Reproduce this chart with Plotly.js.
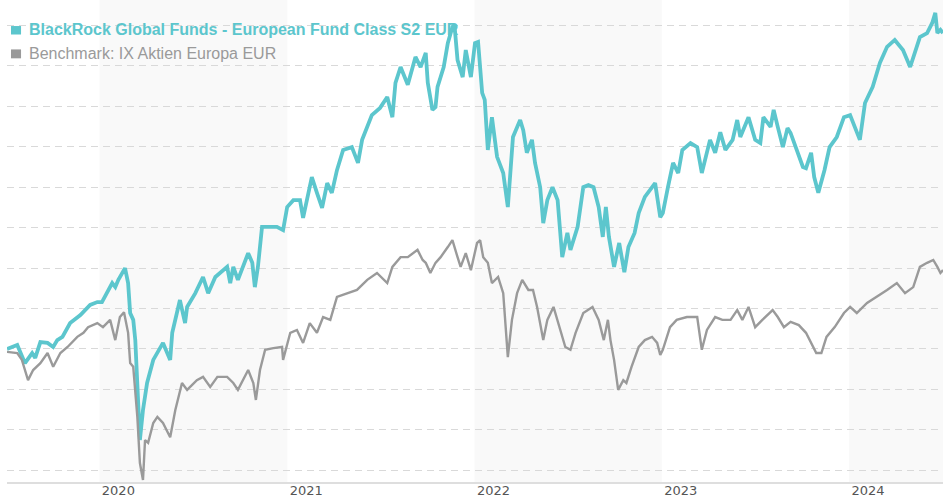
<!DOCTYPE html>
<html>
<head>
<meta charset="utf-8">
<script src="https://cdn.plot.ly/plotly-3.0.1.min.js"></script>
<style>html,body{margin:0;padding:0;background:#fff;}#chart{width:943px;height:500px;}</style>
</head>
<body>
<div id="chart"></div>
<script>
const fundName = 'BlackRock Global Funds - European Fund Class S2 EUR';
const benchName = 'Benchmark: IX Aktien Europa EUR';

const fundDates = ['2019-07-05','2019-07-25','2019-08-09','2019-08-23','2019-08-29','2019-09-08','2019-09-22','2019-10-03','2019-10-11','2019-10-21','2019-11-05','2019-11-25','2019-12-14','2019-12-28','2020-01-06','2020-01-16','2020-01-26','2020-02-01','2020-02-07','2020-02-20','2020-02-26','2020-03-01','2020-03-07','2020-03-11','2020-03-17','2020-03-20','2020-03-26','2020-04-03','2020-04-15','2020-04-23','2020-05-04','2020-05-18','2020-05-22','2020-06-06','2020-06-16','2020-06-20','2020-07-06','2020-07-21','2020-07-31','2020-08-14','2020-09-06','2020-09-12','2020-09-18','2020-09-27','2020-10-17','2020-10-25','2020-10-30','2020-11-05','2020-11-13','2020-11-28','2020-12-12','2020-12-24','2021-01-01','2021-01-13','2021-01-26','2021-02-01','2021-02-09','2021-02-18','2021-02-28','2021-03-10','2021-03-20','2021-03-29','2021-04-08','2021-04-20','2021-05-07','2021-05-19','2021-05-27','2021-06-15','2021-07-01','2021-07-15','2021-07-25','2021-07-31','2021-08-10','2021-08-24','2021-09-08','2021-09-18','2021-09-28','2021-10-02','2021-10-11','2021-10-17','2021-10-21','2021-11-02','2021-11-10','2021-11-19','2021-11-23','2021-11-29','2021-12-09','2021-12-15','2021-12-25','2022-01-02','2022-01-08','2022-01-16','2022-01-21','2022-01-27','2022-02-04','2022-02-14','2022-02-26','2022-03-07','2022-03-17','2022-03-31','2022-04-06','2022-04-13','2022-04-23','2022-04-29','2022-05-09','2022-05-15','2022-05-23','2022-06-02','2022-06-12','2022-06-21','2022-07-01','2022-07-07','2022-07-21','2022-08-01','2022-08-11','2022-08-21','2022-08-31','2022-09-08','2022-09-14','2022-09-20','2022-09-30','2022-10-10','2022-10-20','2022-10-28','2022-11-09','2022-11-17','2022-11-29','2022-12-09','2022-12-19','2022-12-29','2023-01-03','2023-01-13','2023-01-23','2023-02-02','2023-02-10','2023-02-26','2023-03-11','2023-03-20','2023-03-30','2023-04-05','2023-04-15','2023-04-25','2023-05-05','2023-05-19','2023-05-28','2023-06-03','2023-06-19','2023-07-02','2023-07-12','2023-07-18','2023-08-01','2023-08-07','2023-08-15','2023-08-25','2023-09-03','2023-09-09','2023-09-19','2023-10-03','2023-10-09','2023-10-19','2023-10-25','2023-11-02','2023-11-14','2023-11-24','2023-12-08','2023-12-22','2024-01-03','2024-01-12','2024-01-22','2024-02-01','2024-02-16','2024-03-01','2024-03-15','2024-03-30','2024-04-15','2024-04-29','2024-05-09','2024-05-18','2024-06-01','2024-06-11','2024-06-17','2024-06-21','2024-06-27','2024-07-02'];
const fundValues = [100.0,101.0,96.5,99.0,97.8,101.7,101.5,100.5,102.2,103.0,106.4,108.4,110.9,111.6,111.6,113.8,116.3,115.3,117.1,120.0,116.3,108.9,107.2,102.2,87.3,77.5,84.9,91.6,97.3,99.0,101.5,97.3,104.0,112.1,106.4,110.4,113.8,117.8,113.8,117.8,120.3,116.3,120.3,117.1,123.7,121.3,115.3,120.3,130.2,130.2,130.2,129.4,135.1,136.8,136.8,132.4,137.6,142.5,138.6,134.9,141.0,138.6,144.2,149.2,149.9,146.0,151.7,157.8,159.6,162.3,157.3,165.8,169.7,165.3,172.2,169.7,173.2,165.8,159.1,159.8,164.8,169.7,175.6,179.6,180.1,171.4,167.2,173.9,167.2,175.6,175.9,163.3,161.6,149.2,157.3,147.5,143.5,135.1,152.4,156.6,154.1,148.5,151.7,146.0,140.0,131.1,136.8,140.0,136.8,122.7,128.7,124.5,130.2,140.0,140.5,140.0,135.1,127.7,135.1,127.7,120.3,126.2,119.0,125.2,128.7,133.6,137.6,139.3,141.0,132.6,133.6,140.0,146.0,143.5,149.2,150.9,149.9,143.5,148.5,151.7,148.5,153.6,149.2,151.7,156.6,152.4,157.3,151.7,150.9,157.3,154.9,159.1,154.9,149.9,154.6,153.4,149.9,145.0,144.7,148.5,142.5,138.6,144.2,149.9,152.4,157.3,157.8,154.6,151.7,160.8,164.8,170.7,174.7,176.4,173.9,169.7,173.9,177.1,178.1,180.6,183.1,178.1,178.9,178.1];

const benchDates = ['2019-07-05','2019-07-25','2019-08-03','2019-08-15','2019-08-25','2019-09-08','2019-09-22','2019-10-03','2019-10-17','2019-10-31','2019-11-19','2019-12-01','2019-12-10','2019-12-28','2020-01-08','2020-01-22','2020-02-01','2020-02-10','2020-02-18','2020-02-26','2020-03-01','2020-03-07','2020-03-15','2020-03-20','2020-03-26','2020-03-30','2020-04-05','2020-04-15','2020-04-23','2020-05-04','2020-05-18','2020-05-28','2020-06-10','2020-06-20','2020-07-09','2020-07-21','2020-08-04','2020-08-18','2020-09-06','2020-09-18','2020-09-27','2020-10-17','2020-10-27','2020-11-01','2020-11-09','2020-11-19','2020-12-05','2020-12-22','2020-12-24','2021-01-07','2021-01-20','2021-02-01','2021-02-14','2021-02-28','2021-03-12','2021-03-26','2021-04-08','2021-04-28','2021-05-17','2021-06-06','2021-06-25','2021-07-15','2021-07-25','2021-08-10','2021-08-24','2021-09-12','2021-09-22','2021-09-28','2021-10-07','2021-10-17','2021-10-27','2021-11-10','2021-11-19','2021-11-29','2021-12-05','2021-12-15','2021-12-25','2022-01-06','2022-01-12','2022-01-18','2022-01-27','2022-02-04','2022-02-16','2022-02-26','2022-03-07','2022-03-15','2022-03-25','2022-04-04','2022-04-16','2022-04-25','2022-05-03','2022-05-15','2022-05-23','2022-06-04','2022-06-18','2022-06-27','2022-07-07','2022-07-17','2022-08-01','2022-08-19','2022-08-31','2022-09-10','2022-09-18','2022-09-23','2022-09-30','2022-10-08','2022-10-18','2022-10-24','2022-11-03','2022-11-17','2022-11-29','2022-12-13','2022-12-23','2022-12-29','2023-01-03','2023-01-17','2023-01-30','2023-02-19','2023-03-11','2023-03-20','2023-03-30','2023-04-15','2023-04-29','2023-05-15','2023-05-28','2023-06-07','2023-06-19','2023-06-29','2023-07-02','2023-07-16','2023-08-05','2023-08-15','2023-08-27','2023-09-09','2023-09-25','2023-10-09','2023-10-19','2023-10-29','2023-11-08','2023-11-18','2023-12-04','2023-12-22','2024-01-03','2024-01-16','2024-02-05','2024-02-24','2024-03-15','2024-04-03','2024-04-19','2024-05-05','2024-05-18','2024-06-01','2024-06-13','2024-06-21','2024-06-27','2024-07-02'];
const benchValues = [99.3,99.0,97.3,92.3,94.8,96.5,99.0,95.6,99.0,100.5,103.0,104.0,105.4,106.4,105.4,107.2,102.2,107.9,109.1,104.0,96.5,95.6,83.2,71.8,67.6,77.5,76.8,81.7,83.2,81.7,78.2,84.9,91.6,89.9,92.3,93.1,90.6,93.1,93.1,91.6,89.9,94.8,91.6,87.4,94.8,99.8,100.2,100.5,97.3,104.0,104.7,101.5,106.4,104.0,107.9,107.2,112.9,113.8,114.6,117.1,118.8,116.3,120.3,122.7,122.7,124.5,122.0,121.3,118.8,121.3,122.7,125.2,126.9,122.7,120.3,123.7,119.5,126.2,126.9,122.7,121.3,116.3,117.8,113.8,98.0,107.2,113.8,117.1,114.6,114.6,110.4,102.2,107.2,110.4,104.0,100.5,99.8,104.0,108.9,110.4,107.2,102.2,107.2,102.2,97.3,89.9,92.3,91.6,95.6,100.5,102.2,103.0,101.5,98.5,99.8,105.4,107.2,107.9,107.9,99.8,104.7,107.9,107.2,107.2,109.6,107.2,110.4,106.4,105.4,107.2,109.6,107.9,105.4,106.7,105.9,104.0,101.5,99.0,99.0,103.0,105.4,108.9,110.4,108.9,111.4,112.9,114.6,116.3,113.8,115.3,120.3,121.3,122.0,120.3,118.8,119.5];

const yearTicks = ['2020-01-01','2021-01-01','2022-01-01','2023-01-01','2024-01-01'];
const yearLabels = ['2020','2021','2022','2023','2024'];
const shadedYears = [['2020-01-01','2021-01-01'],['2022-01-01','2023-01-01'],['2024-01-01','2024-07-02']];

const teal = '#5cc6cd';
const grey = '#9a9a9a';

const traces = [
  {x: fundDates, y: fundValues, type: 'scatter', mode: 'lines', name: fundName,
   line: {color: teal, width: 3.8}, hoverinfo: 'skip'},
  {x: benchDates, y: benchValues, type: 'scatter', mode: 'lines', name: benchName,
   line: {color: grey, width: 2.4}, hoverinfo: 'skip'}
];

const shapes = shadedYears.map(p => ({
  type: 'rect', xref: 'x', yref: 'paper', x0: p[0], x1: p[1], y0: 0, y1: 1,
  fillcolor: 'rgba(245,245,245,0.6)', line: {width: 0}, layer: 'between'
}));
// legend swatches
shapes.push({type: 'rect', xref: 'paper', yref: 'paper', x0: 0.0043, x1: 0.0150, y0: 0.9284, y1: 0.9460,
  fillcolor: teal, line: {width: 0}, layer: 'above'});
shapes.push({type: 'rect', xref: 'paper', yref: 'paper', x0: 0.0043, x1: 0.0150, y0: 0.8790, y1: 0.8975,
  fillcolor: grey, line: {width: 0}, layer: 'above'});

const layout = {
  width: 943, height: 500,
  margin: {l: 7, r: 0, t: 0, b: 18},
  paper_bgcolor: '#ffffff', plot_bgcolor: '#ffffff',
  showlegend: false,
  xaxis: {
    type: 'date', range: ['2019-07-05', '2024-07-02'],
    showgrid: false, zeroline: false,
    showline: true, linecolor: '#dedede', linewidth: 2,
    tickmode: 'array', tickvals: yearTicks, ticktext: yearLabels,
    ticks: '', ticklabelshift: 19, ticklabelstandoff: -5,
    tickfont: {family: 'DejaVu Sans', size: 13, color: '#555555'},
    fixedrange: true
  },
  yaxis: {
    range: [67.12, 186.27], dtick: 10, tick0: 0,
    showticklabels: false, zeroline: false, showline: false,
    showgrid: true, gridcolor: '#d9d9d9', gridwidth: 1, griddash: '7px,5px',
    fixedrange: true
  },
  shapes: shapes,
  annotations: [
    {xref: 'paper', yref: 'paper', x: 0.0218, y: 0.939, xanchor: 'left', yanchor: 'middle',
     showarrow: false, align: 'left',
     text: '<b>' + fundName + '</b>',
     font: {family: 'Liberation Sans, Arial, sans-serif', size: 16, color: teal}},
    {xref: 'paper', yref: 'paper', x: 0.0218, y: 0.890, xanchor: 'left', yanchor: 'middle',
     showarrow: false, align: 'left',
     text: benchName,
     font: {family: 'Liberation Sans, Arial, sans-serif', size: 16, color: grey}}
  ]
};

Plotly.newPlot('chart', traces, layout, {displayModeBar: false, staticPlot: true});
</script>
</body>
</html>
